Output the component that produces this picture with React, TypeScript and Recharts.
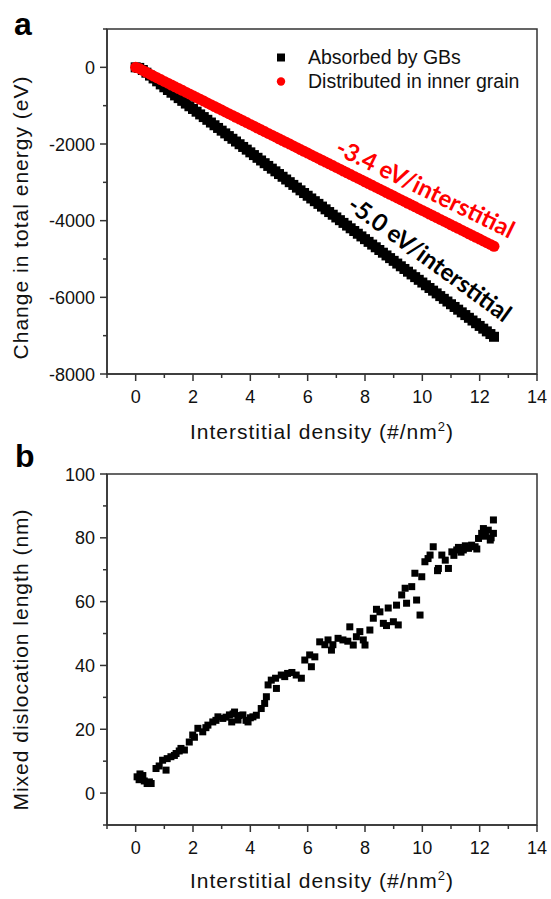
import React from 'react';
import { ScatterChart, Scatter, XAxis, YAxis, ReferenceArea, ReferenceDot, Legend } from 'recharts';

const FONT = '"Liberation Sans", Arial, Helvetica, sans-serif';
const AXIS_COLOR = '#333333';
const TEXT_COLOR = '#111111';

// ---------- Panel a ----------
const densityA = [
  0, 0.125, 0.25, 0.375, 0.5, 0.625, 0.75, 0.875, 1, 1.125, 1.25, 1.375, 1.5, 1.625, 1.75, 1.875,
  2, 2.125, 2.25, 2.375, 2.5, 2.625, 2.75, 2.875, 3, 3.125, 3.25, 3.375, 3.5, 3.625, 3.75, 3.875,
  4, 4.125, 4.25, 4.375, 4.5, 4.625, 4.75, 4.875, 5, 5.125, 5.25, 5.375, 5.5, 5.625, 5.75, 5.875,
  6, 6.125, 6.25, 6.375, 6.5, 6.625, 6.75, 6.875, 7, 7.125, 7.25, 7.375, 7.5, 7.625, 7.75, 7.875,
  8, 8.125, 8.25, 8.375, 8.5, 8.625, 8.75, 8.875, 9, 9.125, 9.25, 9.375, 9.5, 9.625, 9.75, 9.875,
  10, 10.125, 10.25, 10.375, 10.5, 10.625, 10.75, 10.875, 11, 11.125, 11.25, 11.375, 11.5, 11.625, 11.75, 11.875,
  12, 12.125, 12.25, 12.375, 12.5,
];

const gbEnergy = [
  0, -15, -70, -140, -215, -290, -365, -445, -520, -591, -662, -732, -803, -874, -945, -1015,
  -1086, -1157, -1228, -1298, -1369, -1440, -1511, -1581, -1652, -1723, -1794, -1864, -1935, -2006, -2077, -2147,
  -2218, -2289, -2360, -2430, -2501, -2572, -2643, -2713, -2784, -2855, -2926, -2996, -3067, -3138, -3209, -3279,
  -3350, -3421, -3492, -3562, -3633, -3704, -3775, -3845, -3916, -3987, -4058, -4128, -4199, -4270, -4341, -4411,
  -4482, -4553, -4624, -4694, -4765, -4836, -4907, -4977, -5048, -5119, -5190, -5260, -5331, -5402, -5473, -5543,
  -5614, -5685, -5756, -5826, -5897, -5968, -6039, -6109, -6180, -6251, -6322, -6392, -6463, -6534, -6605, -6675,
  -6746, -6817, -6888, -6958, -7029,
];

const grainEnergy = [
  0, -30, -80, -130, -180, -227, -274, -320, -367, -414, -461, -507, -554, -601, -648, -694,
  -741, -788, -835, -881, -928, -975, -1022, -1068, -1115, -1162, -1209, -1255, -1302, -1349, -1396, -1442,
  -1489, -1536, -1583, -1629, -1676, -1723, -1770, -1816, -1863, -1910, -1957, -2003, -2050, -2097, -2144, -2190,
  -2237, -2284, -2331, -2377, -2424, -2471, -2518, -2564, -2611, -2658, -2705, -2751, -2798, -2845, -2892, -2938,
  -2985, -3032, -3079, -3125, -3172, -3219, -3266, -3312, -3359, -3406, -3453, -3499, -3546, -3593, -3640, -3686,
  -3733, -3780, -3827, -3873, -3920, -3967, -4014, -4060, -4107, -4154, -4201, -4247, -4294, -4341, -4388, -4434,
  -4481, -4528, -4575, -4621, -4668,
];

const seriesNamesA = ['Absorbed by GBs', 'Distributed in inner grain'];
const slopeLabels = ['-3.4 eV/interstitial', '-5.0 eV/interstitial'];
const yTicksA = [-8000, -7000, -6000, -5000, -4000, -3000, -2000, -1000, 0, 1000];

// ---------- Panel b ----------
const densityB = [
  0.05, 0.12, 0.15, 0.25, 0.3, 0.4, 0.48, 0.54, 0.71, 0.82, 0.94, 1.06, 1.1, 1.23, 1.35, 1.41,
  1.52, 1.58, 1.7, 1.87, 1.99, 2.05, 2.17, 2.34, 2.45, 2.52, 2.69, 2.8, 2.87, 3.04, 3.15, 3.27,
  3.35, 3.4, 3.45, 3.57, 3.6, 3.74, 3.85, 3.92, 4.0, 4.09, 4.21, 4.38, 4.5, 4.56, 4.62, 4.73,
  4.88, 4.91, 5.08, 5.2, 5.3, 5.45, 5.6, 5.78, 5.9, 6.07, 6.13, 6.25, 6.42, 6.6, 6.71, 6.83,
  6.88, 7.06, 7.23, 7.4, 7.47, 7.59, 7.7, 7.82, 7.94, 8.0, 8.17, 8.29, 8.4, 8.52, 8.64, 8.75,
  8.81, 8.99, 9.1, 9.16, 9.28, 9.4, 9.45, 9.63, 9.74, 9.8, 9.92, 9.98, 10.09, 10.2, 10.27, 10.38,
  10.53, 10.56, 10.68, 10.8, 10.91, 11.03, 11.1, 11.2, 11.26, 11.35, 11.43, 11.5, 11.61, 11.72, 11.84, 11.9,
  11.96, 12.07, 12.13, 12.2, 12.3, 12.37, 12.4, 12.48, 12.48,
];

const dislocationLength = [
  5.1, 4.2, 6.0, 5.5, 3.8, 3.0, 3.5, 3.0, 7.7, 8.5, 10.3, 7.2, 10.8, 11.4, 11.8, 12.4,
  13.2, 14.0, 13.5, 16.0, 18.2, 17.5, 20.3, 19.2, 20.5, 21.3, 22.3, 22.8, 23.9, 23.4, 23.8, 24.5,
  22.3, 24.8, 25.4, 22.9, 24.3, 24.5, 22.8, 22.3, 23.6, 23.9, 24.4, 26.5, 28.1, 30.2, 33.9, 35.4,
  36.0, 32.8, 37.0, 36.5, 37.5, 37.8, 37.0, 36.0, 41.7, 43.3, 39.6, 42.7, 47.4, 46.5, 48.0, 44.8,
  46.5, 48.5, 48.0, 47.6, 52.1, 46.4, 49.0, 50.6, 48.0, 46.4, 51.1, 54.8, 57.6, 56.8, 53.2, 52.5,
  58.0, 53.7, 58.9, 52.7, 62.1, 64.2, 59.5, 64.7, 68.9, 60.5, 55.8, 67.8, 72.5, 73.5, 74.6, 77.2,
  69.7, 70.4, 74.6, 73.0, 70.4, 75.6, 74.5, 76.2, 77.0, 75.5, 76.2, 77.5, 76.7, 77.7, 77.2, 76.5,
  79.8, 81.4, 82.9, 80.5, 82.4, 79.3, 80.0, 81.4, 85.6,
];

const yTicksB = [-10, 0, 10, 20, 30, 40, 50, 60, 70, 80, 90, 100];
const xTicks = [-1, 0, 1, 2, 3, 4, 5, 6, 7, 8, 9, 10, 11, 12, 13, 14];

const gbPoints = densityA.map((x, i) => ({ x, y: gbEnergy[i] }));
const grainPoints = densityA.map((x, i) => ({ x, y: grainEnergy[i] }));
const lengthPoints = densityB.map((x, i) => ({ x, y: dislocationLength[i] }));

// ---------- helpers ----------
const XTick = (props: any) => {
  const { x, y, payload } = props;
  const v = payload.value;
  const major = v % 2 === 0;
  return (
    <g>
      <line x1={x} y1={y} x2={x} y2={y + (major ? 7 : 4)} stroke={AXIS_COLOR} strokeWidth={1.5} />
      {major && (
        <text x={x} y={y + 29} textAnchor="middle" fontSize={18} fontFamily={FONT} fill={TEXT_COLOR}>
          {v}
        </text>
      )}
    </g>
  );
};

const makeYTick = (majorStep: number) => (props: any) => {
  const { x, y, payload } = props;
  const v = payload.value;
  const major = Math.abs(v % majorStep) < 1e-9;
  return (
    <g>
      <line x1={x} y1={y} x2={x - (major ? 7 : 4)} y2={y} stroke={AXIS_COLOR} strokeWidth={1.5} />
      {major && (
        <text x={x - 12} y={y + 6.5} textAnchor="end" fontSize={18} fontFamily={FONT} fill={TEXT_COLOR}>
          {v}
        </text>
      )}
    </g>
  );
};

const YTickA = makeYTick(2000);
const YTickB = makeYTick(20);

const renderXTitle = (props: any) => {
  const { x, y, width, height } = props.viewBox;
  return (
    <text
      x={x + width / 2}
      y={y + height - 11}
      textAnchor="middle"
      fontSize={21}
      letterSpacing={1}
      fontFamily={FONT}
      fill={TEXT_COLOR}
    >
      Interstitial density (#/nm
      <tspan dy={-8} fontSize={13}>2</tspan>
      <tspan dy={8}>)</tspan>
    </text>
  );
};

const makeYTitle = (text: string, shift: number) => (props: any) => {
  const { x, y, height } = props.viewBox;
  const cx = x + 28;
  const cy = y + height / 2 + shift;
  return (
    <text
      x={cx}
      y={cy}
      transform={`rotate(-90 ${cx} ${cy})`}
      textAnchor="middle"
      fontSize={21}
      letterSpacing={1}
      fontFamily={FONT}
      fill={TEXT_COLOR}
    >
      {text}
    </text>
  );
};

const squareA = (p: any) => <rect x={p.cx - 5} y={p.cy - 5} width={10} height={10} fill="#000" />;
const circleA = (p: any) => <circle cx={p.cx} cy={p.cy} r={5.5} fill="#ff0000" />;
const squareB = (p: any) => <rect x={p.cx - 3.5} y={p.cy - 3.5} width={7} height={7} fill="#000" />;

const makeSlopeLabel = (text: string, angle: number, color: string) => (p: any) => (
  <text
    x={p.cx}
    y={p.cy}
    transform={`rotate(${angle} ${p.cx} ${p.cy})`}
    textAnchor="middle"
    dominantBaseline="central"
    fontSize={24}
    fontWeight="bold"
    fontFamily="Lato, 'Open Sans', sans-serif"
    fill={color}
  >
    {text}
  </text>
);

const LegendA = () => (
  <svg width={551} height={110} style={{ position: 'absolute', left: 0, top: 0, overflow: 'visible' }}>
    <rect x={277} y={53.5} width={8} height={8} fill="#000" />
    <text x={308} y={64} fontSize={19.5} fontFamily={FONT} fill={TEXT_COLOR}>
      {seriesNamesA[0]}
    </text>
    <circle cx={281} cy={81.5} r={4.2} fill="#ff0000" />
    <text x={308} y={88} fontSize={19.5} fontFamily={FONT} fill={TEXT_COLOR}>
      {seriesNamesA[1]}
    </text>
  </svg>
);

const axisLineStyle = { stroke: AXIS_COLOR, strokeWidth: 1.5 };

export default function App() {
  return (
    <div style={{ position: 'absolute', left: 0, top: 0, width: 551, height: 899, background: '#fff' }}>
      {/* Panel a */}
      <div style={{ position: 'absolute', left: 0, top: 0 }}>
        <ScatterChart width={551} height={450} margin={{ top: 29, right: 14, bottom: 0, left: 0 }}>
          <XAxis
            type="number"
            dataKey="x"
            domain={[-1, 14]}
            ticks={xTicks}
            interval={0}
            tickSize={0}
            tickMargin={0}
            tickLine={false}
            axisLine={axisLineStyle}
            tick={XTick}
            height={76}
            label={{ content: renderXTitle }}
          />
          <YAxis
            type="number"
            dataKey="y"
            domain={[-8000, 1000]}
            ticks={yTicksA}
            interval={0}
            tickSize={0}
            tickMargin={0}
            tickLine={false}
            axisLine={axisLineStyle}
            tick={YTickA}
            width={107}
            label={{ content: makeYTitle('Change in total energy (eV)', 16) }}
          />
          <ReferenceArea x1={-1} x2={14} y1={-8000} y2={1000} fill="none" fillOpacity={0} stroke={AXIS_COLOR} strokeWidth={1.5} />
          <Scatter name={seriesNamesA[0]} data={gbPoints} shape={squareA} isAnimationActive={false} />
          <Scatter name={seriesNamesA[1]} data={grainPoints} shape={circleA} isAnimationActive={false} />
          <ReferenceDot x={10.12} y={-3136} r={0} shape={makeSlopeLabel(slopeLabels[0], 26, '#ff0000')} />
          <ReferenceDot x={10.28} y={-4975} r={0} shape={makeSlopeLabel(slopeLabels[1], 36, '#000000')} />
          <Legend
            layout="vertical"
            align="center"
            verticalAlign="middle"
            wrapperStyle={{ left: 0, top: 0, width: 0, height: 0 }}
            content={() => <LegendA />}
          />
        </ScatterChart>
      </div>

      {/* Panel b */}
      <div style={{ position: 'absolute', left: 0, top: 440 }}>
        <ScatterChart width={551} height={459} margin={{ top: 34, right: 14, bottom: 0, left: 0 }}>
          <XAxis
            type="number"
            dataKey="x"
            domain={[-1, 14]}
            ticks={xTicks}
            interval={0}
            tickSize={0}
            tickMargin={0}
            tickLine={false}
            axisLine={axisLineStyle}
            tick={XTick}
            height={74}
            label={{ content: renderXTitle }}
          />
          <YAxis
            type="number"
            dataKey="y"
            domain={[-10, 100]}
            ticks={yTicksB}
            interval={0}
            tickSize={0}
            tickMargin={0}
            tickLine={false}
            axisLine={axisLineStyle}
            tick={YTickB}
            width={107}
            label={{ content: makeYTitle('Mixed dislocation length (nm)', 10) }}
          />
          <ReferenceArea x1={-1} x2={14} y1={-10} y2={100} fill="none" fillOpacity={0} stroke={AXIS_COLOR} strokeWidth={1.5} />
          <Scatter data={lengthPoints} shape={squareB} isAnimationActive={false} />
        </ScatterChart>
      </div>

      {/* Panel letters */}
      <svg width={551} height={899} style={{ position: 'absolute', left: 0, top: 0, pointerEvents: 'none' }}>
        <text x={14} y={35} fontSize={32} fontWeight="bold" fontFamily={FONT} fill="#000">a</text>
        <text x={15} y={467} fontSize={32} fontWeight="bold" fontFamily={FONT} fill="#000">b</text>
      </svg>
    </div>
  );
}
